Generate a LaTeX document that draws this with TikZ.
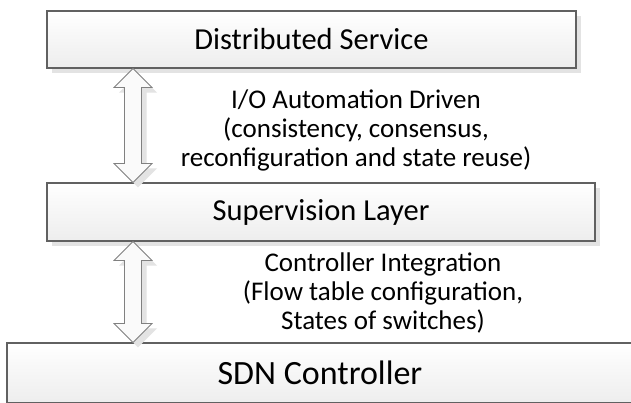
\documentclass[tikz,border=0pt]{standalone}
\usepackage{fontspec}
\setmainfont{Carlito}
\usepackage{tikz}
\usetikzlibrary{calc}
\usetikzlibrary{shadows}

\tikzset{
	layer/.style={draw=black!62, line width=1.1pt, rectangle, inner sep=0pt,
		top color=white, bottom color=black!7,
		drop shadow={shadow xshift=5pt, shadow yshift=-5pt, fill=black!11, opacity=1}},
	fatarrow/.style={draw=black!50, line width=0.8pt, fill=black!2, line join=miter,
		drop shadow={shadow xshift=5pt, shadow yshift=-5pt, fill=black!11, opacity=1}},
	note/.style={align=center, inner sep=0pt, font=\fontsize{27}{29}\selectfont}
}

\newcommand{\fatarrow}[2]{%
	\draw[fatarrow] (#1) -- ($(#1)+(19,19)$) -- ($(#1)+(8.5,19)$) -- ($(#2)+(8.5,-19)$)
		-- ($(#2)+(19,-19)$) -- (#2) -- ($(#2)+(-19,-19)$) -- ($(#2)+(-8.5,-19)$)
		-- ($(#1)+(-8.5,19)$) -- ($(#1)+(-19,19)$) -- cycle;}

\begin{document}
\begin{tikzpicture}[x=1pt, y=-1pt]
				\useasboundingbox[fill=white] (0,0) rectangle (631,402);

				\node[layer, minimum width=529pt, minimum height=57pt, font=\fontsize{30.5}{36}\selectfont] (dist) at (311.5,39.5) {Distributed Service};
				\node[layer, minimum width=548pt, minimum height=58pt, font=\fontsize{30.5}{36}\selectfont] (sup) at (321,212) {Supervision Layer};
				\node[layer, minimum width=626pt, minimum height=60pt, font=\fontsize{34}{38}\selectfont] (sdn) at (320,373) {SDN Controller};

				\coordinate (ax) at (133,0);
				\coordinate (a1) at (dist.south -| ax);
				\coordinate (b1) at (sup.north -| ax);
				\coordinate (a2) at (sup.south -| ax);
				\coordinate (b2) at (sdn.north -| ax);
				\fatarrow{a1}{b1}
				\fatarrow{a2}{b2}

				\node[note, anchor=base] (io) at (356,166) {I/O Automation Driven\\(consistency, consensus,\\reconfiguration and state reuse)};
				\node[note, anchor=base] (ctrl) at (383,329) {Controller Integration\\(Flow table configuration,\\States of switches)};
			\end{tikzpicture}
\end{document}
